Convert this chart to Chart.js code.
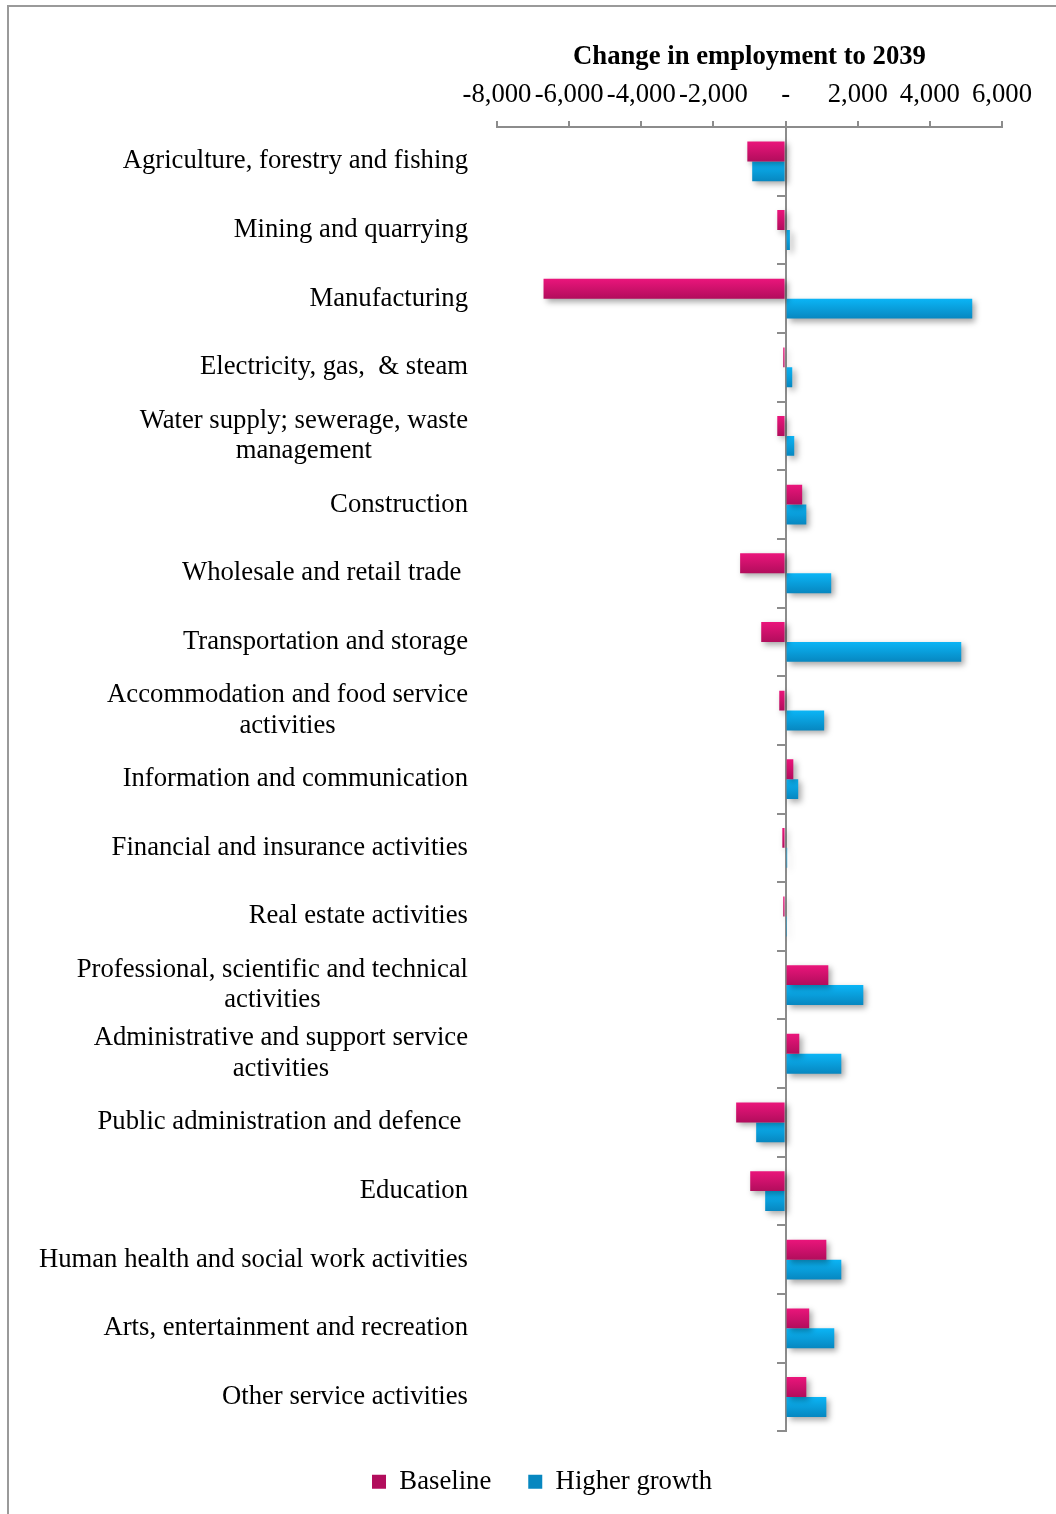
<!DOCTYPE html>
<html>
<head>
<meta charset="utf-8">
<script src="https://cdn.jsdelivr.net/npm/chart.js@4.4.1/dist/chart.umd.min.js"></script>
<style>
	html, body { margin: 0; padding: 0; background: #fff; overflow: hidden; }
	#wrap { position: relative; width: 1056px; height: 1514px; }
	#frame { position: absolute; left: 7px; top: 5px; right: -10px; bottom: -10px;
		border-left: 2px solid #9a9a9a; border-top: 2px solid #9a9a9a; }
	#mycanvas { position: absolute; left: 0; top: 0; }
</style>
</head>
<body>
<div id="wrap">
	<div id="frame"></div>
	<canvas id="mycanvas" width="1056" height="1514"></canvas>
</div>
<script>
var sectors = [
	"Agriculture, forestry and fishing",
	"Mining and quarrying",
	"Manufacturing",
	"Electricity, gas,  & steam",
	["Water supply; sewerage, waste", "management"],
	"Construction",
	"Wholesale and retail trade ",
	"Transportation and storage",
	["Accommodation and food service", "activities"],
	"Information and communication",
	"Financial and insurance activities",
	"Real estate activities",
	["Professional, scientific and technical", "activities"],
	["Administrative and support service", "activities"],
	"Public administration and defence ",
	"Education",
	"Human health and social work activities",
	"Arts, entertainment and recreation",
	"Other service activities"
];
var baseline = [-1060, -230, -6710, -65, -230, 460, -1260, -675, -175, 215, -90, -65, 1185, 380, -1370, -980, 1130, 655, 575];
var higherGrowth = [-925, 120, 5175, 185, 240, 575, 1265, 4870, 1070, 350, 45, 40, 2155, 1545, -815, -565, 1545, 1350, 1130];
var xTicks = [-8000, -6000, -4000, -2000, 0, 2000, 4000, 6000];

var serif = "'Liberation Serif', 'Times New Roman', serif";
var fontPx = 26.7;
var axisGrey = '#8c8c8c';
var catPct = 0.58;

// vertical gradient across each bar, light on top, dark at the bottom
function barFill(light, dark, slot) {
	return function(ctx) {
		var y = ctx.chart.scales.y;
		if (!y || ctx.type !== 'data' || !ctx.chart.chartArea) return light;
		var band = y.getPixelForValue(1) - y.getPixelForValue(0);
		var half = band * catPct / 2;
		var top = y.getPixelForValue(ctx.dataIndex) - half + slot * half;
		var g = ctx.chart.ctx.createLinearGradient(0, top, 0, top + half);
		g.addColorStop(0, light);
		g.addColorStop(1, dark);
		return g;
	};
}

// soft drop shadow under the bars
var barShadow = {
	id: 'barShadow',
	beforeDatasetsDraw: function(chart) {
		var c = chart.ctx;
		c.save();
		c.shadowColor = 'rgba(0,0,0,0.35)';
		c.shadowBlur = 6;
		c.shadowOffsetX = 3;
		c.shadowOffsetY = 3;
	},
	afterDatasetsDraw: function(chart) {
		chart.ctx.restore();
	}
};

// legend sits a little right of the page centre
var legendShift = {
	id: 'legendShift',
	afterLayout: function(chart) {
		if (chart.legend) chart.legend.left += 82;
	}
};

// two-line sector names: centre the lines on each other, keep the block right-aligned
var centreWrapped = {
	id: 'centreWrapped',
	beforeDraw: function(chart) {
		var scale = chart.scales.y;
		var items = scale.getLabelItems();
		var c = chart.ctx;
		items.forEach(function(item) {
			if (!Array.isArray(item.label) || item._done) return;
			c.save();
			c.font = item.font.string;
			var w = 0;
			item.label.forEach(function(l) { w = Math.max(w, c.measureText(l).width); });
			c.restore();
			item.options.textAlign = 'center';
			item.options.translation[0] = item.options.translation[0] - w / 2;
			item._done = true;
		});
	}
};

var ctx = document.getElementById('mycanvas');

var barGraph = new Chart(ctx, {
	type: 'bar',
	data: {
		labels: sectors,
		datasets: [
			{
				label: 'Baseline',
				data: baseline,
				backgroundColor: barFill('#ea157b', '#b20d5c', 0),
				categoryPercentage: catPct,
				barPercentage: 1.0
			},
			{
				label: 'Higher growth',
				data: higherGrowth,
				backgroundColor: barFill('#0bb5f6', '#0787c0', 1),
				categoryPercentage: catPct,
				barPercentage: 1.0
			}
		]
	},
	options: {
		indexAxis: 'y',
		responsive: false,
		animation: false,
		devicePixelRatio: 1,
		layout: { padding: { left: 0, right: 54, top: 0, bottom: 9 } },
		scales: {
			x: {
				type: 'linear',
				position: 'top',
				min: -8000,
				max: 6000,
				afterBuildTicks: function(scale) {
					scale.ticks = xTicks.map(function(v) { return { value: v }; });
				},
				ticks: {
					color: '#000',
					padding: 14,
					autoSkip: false,
					maxRotation: 0,
					minRotation: 0,
					font: { family: serif, size: fontPx, lineHeight: 0.9 },
					callback: function(v) { return v === 0 ? '-' : v.toLocaleString('en-US'); }
				},
				grid: { drawOnChartArea: false, drawTicks: true, tickLength: 6, color: axisGrey, lineWidth: 2 },
				border: { display: true, color: axisGrey, width: 2 }
			},
			y: {
				type: 'category',
				position: 'left',
				afterFit: function(scale) { scale.width = 497; },
				ticks: {
					color: '#000',
					padding: 29,
					font: { family: serif, size: fontPx, lineHeight: 1.15 }
				},
				grid: { display: false, drawTicks: false },
				border: { display: false }
			},
			y2: {
				type: 'category',
				position: { x: 0 },
				labels: sectors,
				offset: true,
				ticks: { display: false },
				grid: { offset: true, drawOnChartArea: false, drawTicks: true, tickLength: 8, color: axisGrey, lineWidth: 2 },
				border: { display: true, color: axisGrey, width: 2 }
			}
		},
		plugins: {
			title: {
				display: true,
				fullSize: false,
				text: 'Change in employment to 2039',
				color: '#000',
				font: { family: serif, size: fontPx, weight: 'bold', lineHeight: 0.9 },
				padding: { top: 45, bottom: 0 }
			},
			legend: {
				position: 'bottom',
				labels: {
					color: '#000',
					boxWidth: 14,
					boxHeight: 14,
					padding: 37,
					font: { family: serif, size: fontPx }
				}
			},
			tooltip: { enabled: false }
		}
	},
	plugins: [barShadow, legendShift, centreWrapped]
});
</script>
</body>
</html>
